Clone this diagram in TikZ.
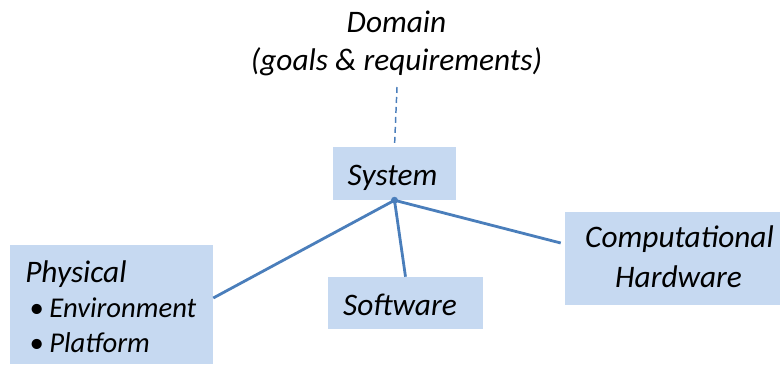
\documentclass[tikz,border=0pt]{standalone}
\usepackage{fontspec}
\setmainfont{Carlito}
\usetikzlibrary{calc}
\definecolor{boxfill}{HTML}{C6D9F1}
\definecolor{linecol}{HTML}{4A7EBB}
\tikzset{
  box/.style={fill=boxfill, draw=none, inner sep=0pt, rectangle},
  lbl/.style={inner sep=0pt, anchor=base, font=\fontsize{23.5}{28}\selectfont\itshape},
  lblw/.style={inner sep=0pt, anchor=base west, font=\fontsize{23.5}{28}\selectfont\itshape},
  lbls/.style={inner sep=0pt, anchor=base west, font=\fontsize{21.5}{26}\selectfont\itshape},
  conn/.style={draw=linecol, line width=2.1pt},
  dconn/.style={draw=linecol, line width=1.1pt, dash pattern=on 4.5pt off 3pt},
}
\begin{document}
\begin{tikzpicture}[x=0.75pt,y=-0.75pt]
\useasboundingbox (0,0) rectangle (780,364);
% boxes
\node[box, minimum width=123*0.75pt, minimum height=53*0.75pt] (system) at (394.5,173.5) {};
\node[box, minimum width=203*0.75pt, minimum height=119*0.75pt] (physical) at (111.5,304.5) {};
\node[box, minimum width=155*0.75pt, minimum height=52*0.75pt] (software) at (405.5,303) {};
\node[box, minimum width=216*0.75pt, minimum height=93*0.75pt] (comp) at (673,258.5) {};
% texts
\node[lbl] (domain1) at (396.5,32) {Domain};
\node[lbl] (domain2) at (396.5,70) {(goals \& requirements)};
\node[lbl] (systemt) at (392.5,185) {System};
\node[lbl] (softwaret) at (400,315) {Software};
\node[lbl] (compt1) at (679.5,247) {Computational};
\node[lbl] (compt2) at (678.5,287) {Hardware};
\node[lblw] (phys1) at (25,282) {Physical};
\node[lbls] (bul1) at (29,317) {\textbullet};
\node[lbls] (phys2) at (49,317) {Environment};
\node[lbls] (bul2) at (29,352) {\textbullet};
\node[lbls] (phys3) at (49,352) {Platform};
% connectors
\coordinate (dtop) at (397,87);
\draw[dconn] (dtop) -- (system.north);
\draw[conn] (system.south) -- ($(physical.east)+(0,-6.5)$);
\draw[conn] (system.south) -- (software.north);
\draw[conn] (system.south) -- ($(comp.west)+(-4,-15.5)$);
\fill[linecol] (system.south) circle (3.5*0.75pt);
\end{tikzpicture}
\end{document}
